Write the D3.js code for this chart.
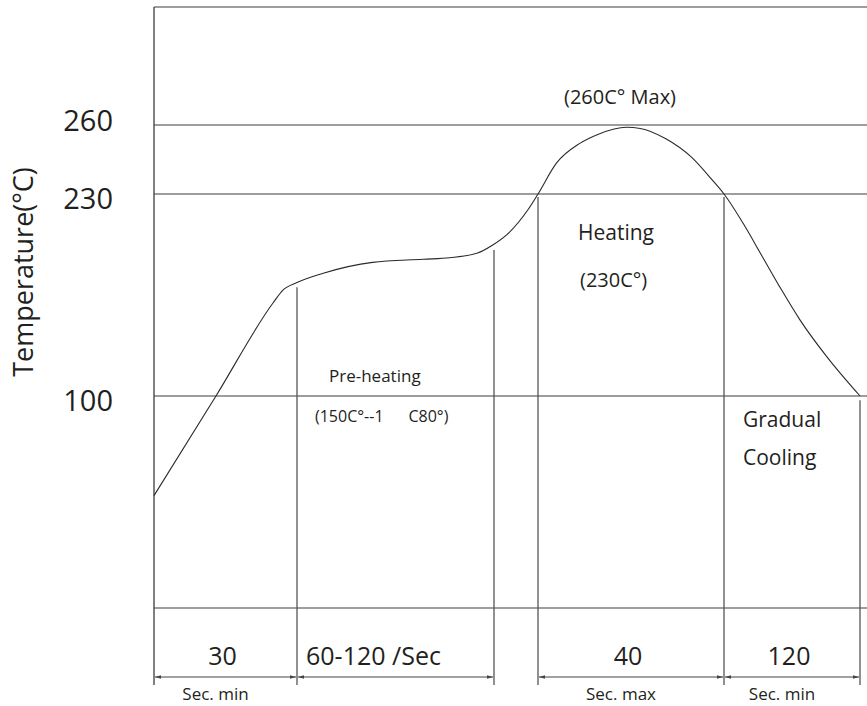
<!DOCTYPE html>
<html>
<head>
<meta charset="utf-8">
<script src="https://cdn.jsdelivr.net/npm/d3@7"></script>
<style>
  body { margin: 0; background: #fff; }
  text { font-family: "Open Sans", sans-serif; fill: #231f20; }
</style>
</head>
<body>
<svg id="chart" width="867" height="706"></svg>
<script>
// reflow profile
const tempTicks = [260, 230, 100];
const phaseBounds = [0, 30, 150, 170, 210, 330];   // seconds
const spanStart = [0, 30, 170, 210];
const spanEnd = [30, 150, 210, 330];
const spanLabels = ["30", "60-120 /Sec", "40", "120"];
const spanNotes = ["Sec. min", "", "Sec. max", "Sec. min"];
const markerTimes = [30, 150, 170, 210, 330];
const markerTops = [170, 194, 228, 228, 98];
const profileTime = [0, 13, 25, 27, 30, 46, 76, 107, 123, 140, 149, 156, 165.5, 170, 174, 179, 183, 189, 192, 197.5, 203, 207.5, 210, 227, 244, 261, 277, 301, 330];
const profileTemp = [53, 100, 160, 168, 173, 179, 186, 188, 189, 192, 197, 204, 220, 230, 243.5, 252, 256, 259, 258.5, 254, 246, 236, 230, 211, 189.5, 168, 149, 125, 100];

const W = 867, H = 706;
const svg = d3.select("#chart");

// both axes of the original are drawn piecewise, not to scale
const x = d3.scaleLinear().domain(phaseBounds).range([154, 297, 494, 538, 724, 860]);
const y = d3.scaleLinear().domain([0, 100, 230, 260, 311]).range([608, 396, 194, 125, 7]);
const yBottom = y(0) + 77;
const lineCol = "#3c3c3c";

svg.append("defs").selectAll("marker")
  .data(["start", "end"])
  .join("marker")
  .attr("id", d => "arr-" + d)
  .attr("viewBox", "0 0 10 10")
  .attr("refX", d => d === "end" ? 10 : 0)
  .attr("refY", 5)
  .attr("markerWidth", 6)
  .attr("markerHeight", 6)
  .attr("markerUnits", "userSpaceOnUse")
  .attr("orient", "auto")
  .append("path")
  .attr("d", d => d === "end" ? "M0,2L10,5L0,8Z" : "M10,2L0,5L10,8Z")
  .attr("fill", "#444");

// frame: top edge, left edge, temperature lines, base line
svg.append("line")
  .attr("x1", x(0)).attr("x2", W).attr("y1", y(311)).attr("y2", y(311))
  .attr("stroke", lineCol).attr("stroke-width", 1.2);
svg.append("line")
  .attr("x1", x(0)).attr("x2", x(0)).attr("y1", y(311)).attr("y2", yBottom)
  .attr("stroke", lineCol).attr("stroke-width", 1.3);
svg.selectAll(".hline")
  .data(tempTicks.concat([0]))
  .join("line")
  .attr("class", "hline")
  .attr("x1", x(0)).attr("x2", W)
  .attr("y1", d => y(d)).attr("y2", d => y(d))
  .attr("stroke", lineCol).attr("stroke-width", 1.2);

// phase markers
svg.selectAll(".marker")
  .data(markerTimes)
  .join("line")
  .attr("class", "marker")
  .attr("x1", d => x(d)).attr("x2", d => x(d))
  .attr("y1", (d, i) => y(markerTops[i])).attr("y2", yBottom)
  .attr("stroke", "#555").attr("stroke-width", 1.3);

// tick labels
const tickDy = {260: -4, 230: 5, 100: 5};
svg.selectAll(".tick")
  .data(tempTicks)
  .join("text")
  .attr("class", "tick")
  .attr("x", x(0) - 41)
  .attr("y", d => y(d) + tickDy[d])
  .attr("dy", "0.35em")
  .attr("text-anchor", "end")
  .attr("font-size", 29)
  .text(d => d);

svg.append("text")
  .attr("transform", `translate(33,272) rotate(-90)`)
  .attr("text-anchor", "middle")
  .attr("font-size", 27)
  .text("Temperature(°C)");

// profile curve
const line = d3.line()
  .x((d, i) => x(profileTime[i]))
  .y(d => y(d))
  .curve(d3.curveMonotoneX);
svg.append("path")
  .datum(profileTemp)
  .attr("d", line)
  .attr("fill", "none")
  .attr("stroke", "#2a2a2a")
  .attr("stroke-width", 1.1);

// duration arrows + labels
const arrowY = yBottom - 8;
svg.selectAll(".span")
  .data(spanStart)
  .join("line")
  .attr("class", "span")
  .attr("x1", d => x(d) + 1).attr("x2", (d, i) => x(spanEnd[i]) - 1)
  .attr("y1", arrowY).attr("y2", arrowY)
  .attr("stroke", "#444").attr("stroke-width", 1.1)
  .attr("marker-start", "url(#arr-start)")
  .attr("marker-end", "url(#arr-end)");

svg.selectAll(".spanlab")
  .data(spanLabels)
  .join("text")
  .attr("class", "spanlab")
  .attr("x", (d, i) => i === 1 ? x(spanStart[i]) + 9 : (x(spanStart[i]) + x(spanEnd[i])) / 2 - 3)
  .attr("y", arrowY - 12)
  .attr("text-anchor", (d, i) => i === 1 ? "start" : "middle")
  .attr("font-size", 25)
  .text(d => d);

svg.selectAll(".spannote")
  .data(spanNotes)
  .join("text")
  .attr("class", "spannote")
  .attr("x", (d, i) => (x(spanStart[i]) + x(spanEnd[i])) / 2 - 10)
  .attr("y", arrowY + 23)
  .attr("text-anchor", "middle")
  .attr("font-size", 17)
  .text(d => d);

// annotations
svg.append("text")
  .attr("x", (x(170) + x(210)) / 2 - 11).attr("y", y(260) - 21)
  .attr("text-anchor", "middle").attr("font-size", 20)
  .text("(260C° Max)");
svg.append("text")
  .attr("x", x(170) + 40).attr("y", y(230) + 46)
  .attr("font-size", 21).text("Heating");
svg.append("text")
  .attr("x", x(170) + 42).attr("y", y(230) + 93)
  .attr("font-size", 20).text("(230C°)");
svg.append("text")
  .attr("x", x(30) + 32).attr("y", y(100) - 14)
  .attr("font-size", 17).text("Pre-heating");
svg.append("text")
  .attr("x", x(30) + 18).attr("y", y(100) + 26)
  .attr("font-size", 16).style("white-space", "pre")
  .text("(150C°--1      C80°)");
svg.append("text")
  .attr("x", x(210) + 19).attr("y", y(100) + 31)
  .attr("font-size", 21).text("Gradual");
svg.append("text")
  .attr("x", x(210) + 19).attr("y", y(100) + 69)
  .attr("font-size", 21).text("Cooling");
</script>
</body>
</html>
